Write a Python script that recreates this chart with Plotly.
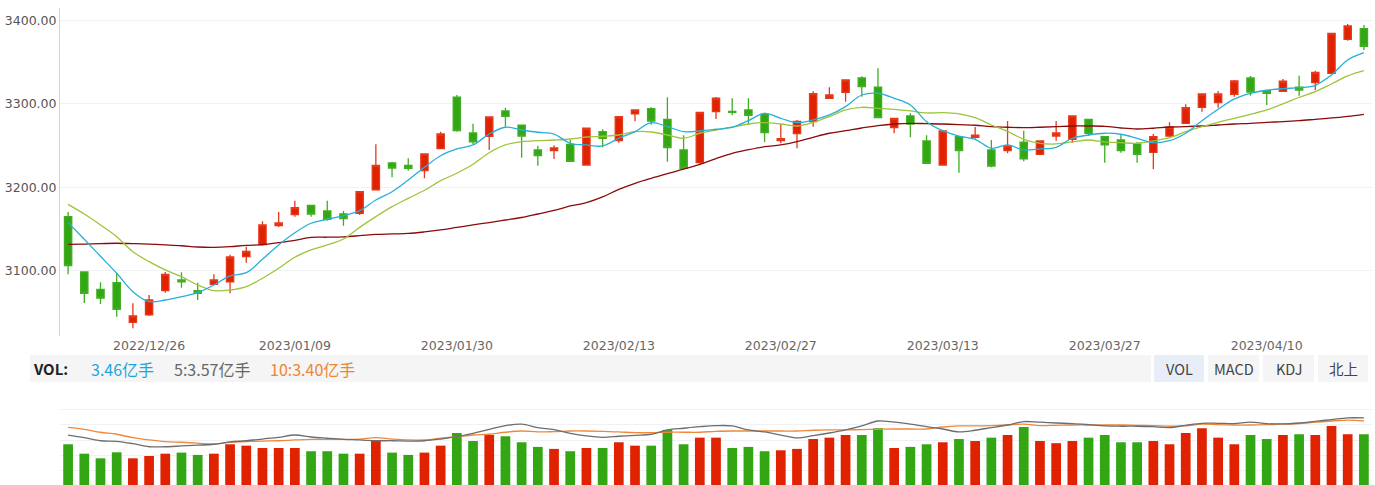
import plotly.graph_objects as go

# ---------------- data ----------------
dates = [
    "2022-12-19", "2022-12-20", "2022-12-21", "2022-12-22", "2022-12-23",
    "2022-12-26", "2022-12-27", "2022-12-28", "2022-12-29", "2022-12-30",
    "2023-01-03", "2023-01-04", "2023-01-05", "2023-01-06", "2023-01-09",
    "2023-01-10", "2023-01-11", "2023-01-12", "2023-01-13", "2023-01-16",
    "2023-01-17", "2023-01-18", "2023-01-19", "2023-01-20", "2023-01-30",
    "2023-01-31", "2023-02-01", "2023-02-02", "2023-02-03", "2023-02-06",
    "2023-02-07", "2023-02-08", "2023-02-09", "2023-02-10", "2023-02-13",
    "2023-02-14", "2023-02-15", "2023-02-16", "2023-02-17", "2023-02-20",
    "2023-02-21", "2023-02-22", "2023-02-23", "2023-02-24", "2023-02-27",
    "2023-02-28", "2023-03-01", "2023-03-02", "2023-03-03", "2023-03-06",
    "2023-03-07", "2023-03-08", "2023-03-09", "2023-03-10", "2023-03-13",
    "2023-03-14", "2023-03-15", "2023-03-16", "2023-03-17", "2023-03-20",
    "2023-03-21", "2023-03-22", "2023-03-23", "2023-03-24", "2023-03-27",
    "2023-03-28", "2023-03-29", "2023-03-30", "2023-03-31", "2023-04-03",
    "2023-04-04", "2023-04-05", "2023-04-06", "2023-04-07", "2023-04-10",
    "2023-04-11", "2023-04-12", "2023-04-13", "2023-04-14", "2023-04-17",
    "2023-04-18",
]

open_ = [3164.8, 3098.6, 3077.8, 3085.7, 3038.3, 3047.1, 3076.2, 3089.0, 3076.2, 3083.8,
         3086.6, 3116.9, 3131.3, 3154.0, 3167.2, 3178.4, 3171.6, 3168.0, 3168.9, 3196.8,
         3229.1, 3226.3, 3219.9, 3246.2, 3307.8, 3265.0, 3261.1, 3291.4, 3274.3, 3244.7,
         3243.8, 3251.5, 3226.7, 3266.6, 3255.8, 3287.8, 3294.1, 3281.4, 3244.7, 3229.5,
         3290.5, 3291.0, 3292.6, 3287.4, 3255.8, 3264.2, 3278.6, 3306.6, 3313.8, 3330.9,
         3319.8, 3271.4, 3285.4, 3255.5, 3226.7, 3260.6, 3259.9, 3244.7, 3243.8, 3253.9,
         3239.5, 3261.4, 3257.5, 3281.4, 3260.6, 3256.6, 3251.9, 3241.9, 3261.4, 3276.6,
         3295.8, 3301.3, 3311.4, 3330.9, 3315.7, 3315.0, 3319.8, 3325.3, 3336.5, 3377.2,
         3390.0]
high = [3170.4, 3099.5, 3086.2, 3097.0, 3061.1, 3071.0, 3098.6, 3098.2, 3085.7, 3095.8,
        3119.3, 3128.9, 3159.3, 3170.4, 3184.0, 3179.0, 3184.0, 3171.6, 3195.5, 3251.5,
        3230.7, 3234.7, 3240.5, 3266.6, 3310.5, 3276.2, 3285.0, 3295.3, 3275.0, 3249.8,
        3250.3, 3256.6, 3271.0, 3269.5, 3285.0, 3293.0, 3295.8, 3307.8, 3262.3, 3290.0,
        3308.1, 3306.6, 3306.6, 3289.3, 3275.8, 3280.6, 3315.0, 3319.8, 3329.3, 3332.9,
        3342.5, 3283.0, 3288.6, 3262.3, 3268.0, 3261.0, 3272.2, 3256.6, 3279.4, 3267.8,
        3256.0, 3279.4, 3286.0, 3282.0, 3261.0, 3262.6, 3254.3, 3263.8, 3277.8, 3299.4,
        3312.0, 3315.3, 3328.5, 3333.3, 3316.5, 3329.7, 3333.7, 3339.6, 3385.0, 3395.6,
        3394.4]
low = [3095.8, 3061.4, 3060.2, 3045.0, 3031.1, 3046.0, 3073.8, 3079.8, 3065.0, 3083.0,
       3073.1, 3109.7, 3130.0, 3152.5, 3164.8, 3164.8, 3160.0, 3154.0, 3166.8, 3196.0,
       3212.0, 3219.9, 3210.8, 3246.0, 3266.6, 3251.9, 3244.7, 3272.6, 3235.4, 3225.9,
       3233.9, 3230.5, 3226.0, 3247.9, 3253.4, 3279.0, 3275.0, 3230.7, 3222.0, 3226.3,
       3281.8, 3286.2, 3275.0, 3254.3, 3252.7, 3246.7, 3272.6, 3306.0, 3302.5, 3308.5,
       3283.0, 3264.7, 3259.9, 3228.0, 3226.0, 3217.5, 3258.2, 3224.0, 3240.7, 3231.1,
       3238.3, 3255.8, 3253.4, 3261.4, 3229.5, 3241.4, 3229.5, 3221.6, 3259.9, 3276.0,
       3290.5, 3295.3, 3308.5, 3309.7, 3298.6, 3315.0, 3309.7, 3316.5, 3336.0, 3375.6,
       3364.4]
close = [3106.1, 3073.1, 3067.4, 3053.9, 3045.9, 3065.0, 3095.8, 3086.6, 3073.1, 3089.0,
         3116.5, 3123.3, 3154.9, 3157.2, 3175.6, 3168.0, 3161.7, 3162.4, 3194.7, 3226.3,
         3223.1, 3222.8, 3239.9, 3263.8, 3267.8, 3254.3, 3284.2, 3285.0, 3261.4, 3237.8,
         3247.1, 3231.1, 3270.7, 3258.7, 3284.6, 3292.6, 3279.4, 3247.4, 3222.8, 3289.8,
         3306.6, 3289.8, 3286.2, 3265.4, 3258.2, 3279.0, 3312.1, 3310.5, 3328.5, 3320.5,
         3283.4, 3282.6, 3275.8, 3228.7, 3267.4, 3243.8, 3262.3, 3225.5, 3249.5, 3233.9,
         3255.5, 3265.0, 3285.4, 3264.7, 3250.7, 3243.8, 3239.5, 3260.6, 3271.9, 3295.3,
         3311.7, 3311.7, 3327.3, 3314.1, 3312.6, 3327.0, 3316.5, 3337.7, 3384.4, 3393.2,
         3368.9]

ma5 = [3157.7, 3137.7, 3117.4, 3097.0, 3075.0, 3063.0, 3065.0, 3069.0, 3073.8, 3083.0,
       3093.8, 3097.7, 3113.8, 3131.0, 3145.6, 3156.9, 3161.7, 3166.0, 3172.0, 3184.8,
       3194.7, 3208.7, 3224.0, 3237.8, 3245.9, 3250.7, 3263.8, 3271.9, 3268.6, 3265.9,
       3263.8, 3252.7, 3250.7, 3249.5, 3258.7, 3266.6, 3277.4, 3272.6, 3266.6, 3267.4,
       3269.5, 3271.9, 3279.8, 3288.6, 3282.6, 3277.4, 3280.6, 3286.6, 3296.6, 3310.5,
       3312.6, 3306.6, 3298.6, 3278.6, 3267.8, 3261.4, 3257.5, 3246.7, 3250.7, 3244.7,
       3245.9, 3247.9, 3258.7, 3262.6, 3264.7, 3263.5, 3258.7, 3253.4, 3255.8, 3264.7,
       3279.8, 3293.4, 3305.8, 3312.6, 3316.2, 3318.1, 3319.3, 3322.1, 3334.5, 3352.5,
       3361.2]
ma10 = [3179.6, 3168.0, 3154.9, 3140.8, 3122.9, 3110.9, 3101.0, 3092.9, 3083.0, 3076.2,
        3077.0, 3081.0, 3091.0, 3103.0, 3116.2, 3125.0, 3130.9, 3138.0, 3152.0, 3164.8,
        3176.8, 3186.8, 3196.4, 3207.9, 3216.8, 3227.5, 3241.4, 3250.7, 3254.6, 3255.8,
        3256.6, 3257.8, 3260.2, 3261.1, 3262.6, 3266.6, 3266.2, 3262.6, 3258.7, 3264.7,
        3268.6, 3271.9, 3275.8, 3277.4, 3275.8, 3273.4, 3277.8, 3284.6, 3292.6, 3295.8,
        3294.6, 3293.4, 3291.4, 3289.0, 3289.3, 3287.8, 3283.4, 3274.6, 3267.0, 3257.5,
        3252.7, 3251.9, 3254.3, 3256.6, 3254.3, 3253.4, 3252.7, 3255.5, 3259.4, 3266.6,
        3272.6, 3277.8, 3282.6, 3287.4, 3292.6, 3299.8, 3307.8, 3314.5, 3323.7, 3333.3,
        3339.6]
ma60 = [3131.7, 3132.0, 3132.5, 3133.0, 3132.5, 3131.9, 3131.0, 3130.0, 3128.5, 3128.1,
        3128.9, 3130.5, 3131.3, 3133.7, 3136.5, 3140.0, 3140.2, 3140.7, 3142.0, 3143.5,
        3144.1, 3144.7, 3146.5, 3148.9, 3151.9, 3154.9, 3157.8, 3160.8, 3163.8, 3168.0,
        3172.2, 3177.6, 3181.6, 3188.4, 3197.6, 3204.8, 3210.8, 3216.3, 3221.6, 3227.5,
        3234.3, 3240.7, 3245.0, 3248.6, 3250.7, 3254.6, 3259.9, 3264.7, 3267.8, 3271.0,
        3273.8, 3275.8, 3276.6, 3276.2, 3275.8, 3275.0, 3274.3, 3272.6, 3271.9, 3271.4,
        3271.9, 3272.6, 3273.4, 3273.4, 3273.0, 3271.0, 3269.8, 3270.7, 3272.2, 3272.6,
        3273.4, 3274.6, 3275.8, 3276.6, 3277.8, 3278.6, 3279.8, 3281.4, 3283.0, 3285.0,
        3287.4]

volume = [2.73, 2.12, 1.82, 2.21, 1.82, 1.97, 2.12, 2.19, 2.04, 2.12,
          2.73, 2.64, 2.49, 2.49, 2.49, 2.28, 2.28, 2.12, 2.12, 2.94,
          2.19, 2.04, 2.19, 2.64, 3.46, 2.94, 3.33, 3.25, 2.86, 2.56,
          2.43, 2.28, 2.49, 2.49, 2.86, 2.64, 2.64, 3.66, 2.73, 3.16,
          3.16, 2.49, 2.56, 2.28, 2.34, 2.43, 3.07, 3.16, 3.33, 3.33,
          3.77, 2.49, 2.56, 2.73, 2.86, 3.07, 2.94, 3.16, 3.33, 3.85,
          2.94, 2.80, 2.94, 3.16, 3.33, 2.86, 2.86, 2.94, 2.73, 3.46,
          3.77, 3.16, 2.73, 3.33, 3.07, 3.33, 3.38, 3.33, 3.92, 3.38,
          3.38]
vol_ma5 = [3.33, 3.16, 2.96, 2.92, 2.77, 2.57, 2.57, 2.62, 2.67, 2.73,
           2.88, 2.96, 3.07, 3.18, 3.33, 3.20, 3.12, 3.05, 3.01, 2.96,
           2.96, 2.94, 2.96, 3.07, 3.22, 3.44, 3.70, 3.94, 4.03, 3.81,
           3.68, 3.44, 3.27, 3.18, 3.25, 3.31, 3.38, 3.66, 3.77, 3.87,
           3.94, 3.92, 3.66, 3.53, 3.33, 3.14, 3.29, 3.46, 3.66, 3.92,
           4.24, 4.16, 4.03, 3.87, 3.72, 3.53, 3.64, 3.81, 3.98, 4.20,
           4.16, 4.11, 4.07, 4.00, 3.92, 3.90, 3.90, 3.87, 3.81, 3.96,
           4.09, 4.09, 4.07, 4.16, 4.07, 4.05, 4.11, 4.22, 4.33, 4.44,
           4.44]
vol_ma10 = [3.83, 3.70, 3.51, 3.38, 3.16, 3.01, 2.90, 2.86, 2.80, 2.75,
            2.86, 2.90, 2.94, 2.96, 3.01, 3.05, 3.05, 3.05, 3.07, 3.16,
            3.07, 3.01, 3.01, 3.12, 3.22, 3.33, 3.38, 3.51, 3.59, 3.53,
            3.55, 3.59, 3.59, 3.57, 3.53, 3.48, 3.48, 3.51, 3.51, 3.51,
            3.57, 3.59, 3.59, 3.59, 3.59, 3.59, 3.64, 3.66, 3.66, 3.68,
            3.70, 3.72, 3.72, 3.72, 3.85, 3.92, 3.92, 3.94, 3.98, 4.03,
            3.94, 3.96, 3.98, 3.98, 3.98, 3.98, 3.96, 3.94, 3.90, 3.92,
            4.03, 4.00, 3.98, 3.98, 4.00, 4.03, 4.07, 4.16, 4.24, 4.29,
            4.24]

tick_dates = ["2022-12-26", "2023-01-09", "2023-01-30", "2023-02-13",
              "2023-02-27", "2023-03-13", "2023-03-27", "2023-04-10"]
tick_labels = ["2022/12/26", "2023/01/09", "2023/01/30", "2023/02/13",
               "2023/02/27", "2023/03/13", "2023/03/27", "2023/04/10"]

header_values = ["3.46亿手", "5:3.57亿手", "10:3.40亿手"]
buttons = ["VOL", "MACD", "KDJ", "北上"]

# ---------------- styling ----------------
W, H = 1375, 485
RED, GREEN = "#e02200", "#33a614"


def pxx(x):
    return x / W


def pxy(y):
    return 1 - y / H


fig = go.Figure()

fig.add_trace(go.Candlestick(
    x=dates, open=open_, high=high, low=low, close=close,
    increasing=dict(line=dict(color="#e5391c", width=1.3), fillcolor=RED),
    decreasing=dict(line=dict(color="#3fae22", width=1.3), fillcolor=GREEN),
    whiskerwidth=0, xaxis="x", yaxis="y", hoverinfo="skip",
))

for vals, col in [(ma60, "#8b0a0a"), (ma10, "#9dc43a"), (ma5, "#27b0d9")]:
    fig.add_trace(go.Scatter(x=dates, y=vals, mode="lines",
                             line=dict(color=col, width=1.3, shape="spline"),
                             xaxis="x", yaxis="y", hoverinfo="skip"))

vol_colors = [RED if c >= o else GREEN for o, c in zip(open_, close)]
fig.add_trace(go.Bar(x=dates, y=volume, marker=dict(color=vol_colors, line=dict(width=0)),
                     width=0.6, xaxis="x2", yaxis="y2", hoverinfo="skip"))
fig.add_trace(go.Scatter(x=dates, y=vol_ma10, mode="lines",
                         line=dict(color="#f0883a", width=1.3, shape="spline"),
                         xaxis="x2", yaxis="y2", hoverinfo="skip"))
fig.add_trace(go.Scatter(x=dates, y=vol_ma5, mode="lines",
                         line=dict(color="#6d6d6d", width=1.3, shape="spline"),
                         xaxis="x2", yaxis="y2", hoverinfo="skip"))

xdom = [pxx(60), pxx(1372)]
fig.update_layout(
    width=W, height=H, margin=dict(l=0, r=0, t=0, b=0),
    paper_bgcolor="white", plot_bgcolor="white", showlegend=False,
    boxgap=0.36,
    xaxis=dict(domain=xdom, type="category", range=[-0.5, len(dates) - 0.5],
               rangeslider=dict(visible=False), showgrid=False, showline=False,
               zeroline=False, ticks="", tickvals=tick_dates, ticktext=tick_labels,
               tickfont=dict(family="DejaVu Sans", size=12.5, color="#666666"),
               anchor="y", automargin=False),
    yaxis=dict(domain=[pxy(336), pxy(8)], range=[3021.9, 3414.7], dtick=100, tick0=3000,
               tickformat=".2f", showgrid=True, gridcolor="#eef2f7", gridwidth=1,
               showline=True, linecolor="#c9d7f0", linewidth=1, zeroline=False, ticks="",
               tickfont=dict(family="DejaVu Sans", size=12.5, color="#555555"),
               anchor="x", automargin=False),
    xaxis2=dict(domain=xdom, type="category", range=[-0.5, len(dates) - 0.5],
                showticklabels=False, showgrid=False, showline=False, zeroline=False,
                ticks="", anchor="y2", matches="x"),
    yaxis2=dict(domain=[0, pxy(400)], range=[0.09, 5.6], dtick=1, tick0=0,
                showticklabels=False, showgrid=True, gridcolor="#eef2f7", gridwidth=1,
                showline=False, zeroline=False, ticks="", anchor="x2"),
)

shapes = [dict(type="rect", xref="paper", yref="paper", x0=pxx(30), x1=pxx(1151),
               y0=pxy(382), y1=pxy(355), fillcolor="#f5f5f5", line=dict(width=0), layer="below")]
btn_x = [(1154, 1204), (1208, 1259), (1263, 1314), (1318, 1368)]
btn_fill = ["#e8eef8", "#f5f5f5", "#f5f5f5", "#f5f5f5"]
for (a, b), f in zip(btn_x, btn_fill):
    shapes.append(dict(type="rect", xref="paper", yref="paper", x0=pxx(a), x1=pxx(b),
                       y0=pxy(382), y1=pxy(355), fillcolor=f, line=dict(width=0), layer="below"))
fig.update_layout(shapes=shapes)

cjk = "Noto Sans CJK SC"
ann = [dict(text="<b>VOL:</b>", x=pxx(31), y=pxy(368.5), xanchor="left", yanchor="middle",
            font=dict(family=cjk, size=15, color="#222222"))]
for txt, x0, col in zip(header_values, [89, 172, 268], ["#1fa6d9", "#666666", "#ef8531"]):
    ann.append(dict(text=txt, x=pxx(x0), y=pxy(368.5), xanchor="left", yanchor="middle",
                    font=dict(family=cjk, size=16, color=col)))
for txt, (a, b) in zip(buttons, btn_x):
    ann.append(dict(text=txt, x=pxx((a + b) / 2), y=pxy(368.5), xanchor="center",
                    yanchor="middle", font=dict(family=cjk, size=14.5, color="#444444")))
for a in ann:
    a.update(xref="paper", yref="paper", showarrow=False)
fig.update_layout(annotations=ann)

fig.write_html("out.html")
